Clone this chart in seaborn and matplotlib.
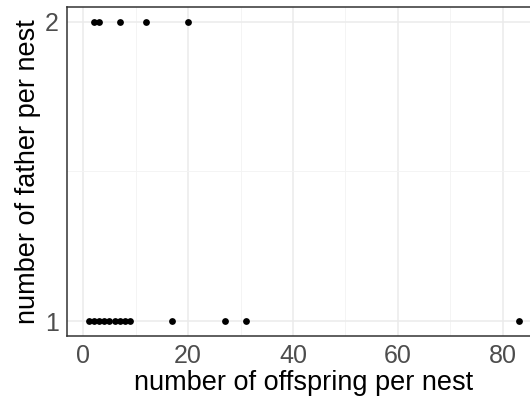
import numpy as np
import pandas as pd
import seaborn as sns
import matplotlib.pyplot as plt
from matplotlib.ticker import MultipleLocator

# Data
offspring_one = [1, 2, 3, 4, 5, 6, 7, 8, 9, 17, 27, 31, 83]
offspring_two = [2, 3, 7, 12, 20]

df = pd.DataFrame({
    "offspring": offspring_one + offspring_two,
    "fathers": [1] * len(offspring_one) + [2] * len(offspring_two),
})

sns.set_style("white")
plt.rcParams['font.family'] = ['Liberation Sans', 'DejaVu Sans']

fig = plt.figure(figsize=(5.30, 4.03), dpi=100)
ax = fig.add_axes([67 / 530, 1 - 336 / 403, 473 / 530, 329 / 403])

# grid first (theme_bw style)
ax.set_xlim(-3.1, 87.1)
ax.set_ylim(0.95, 2.05)
ax.xaxis.set_major_locator(MultipleLocator(20))
ax.xaxis.set_minor_locator(MultipleLocator(10))
ax.set_yticks([1, 2])
ax.set_yticks([1.5], minor=True)
ax.grid(True, which="major", color="#ebebeb", linewidth=1.1)
ax.grid(True, which="minor", color="#f3f3f3", linewidth=0.6)
ax.set_axisbelow(True)

sns.scatterplot(data=df, x="offspring", y="fathers", ax=ax, color="black",
                s=24, linewidth=0, legend=False)

for sp in ax.spines.values():
    sp.set_color("#333333")
    sp.set_linewidth(1.1)

ax.tick_params(which="major", length=4, width=1, color="#333333",
               labelsize=18, labelcolor="#4d4d4d", pad=2)
ax.tick_params(which="minor", length=0)
ax.set_xlabel("number of offspring per nest", fontsize=19.5, color="black", labelpad=1)
ax.set_ylabel("number of father per nest", fontsize=19.5, color="black", labelpad=3)

fig.savefig("out.png", dpi=100)
